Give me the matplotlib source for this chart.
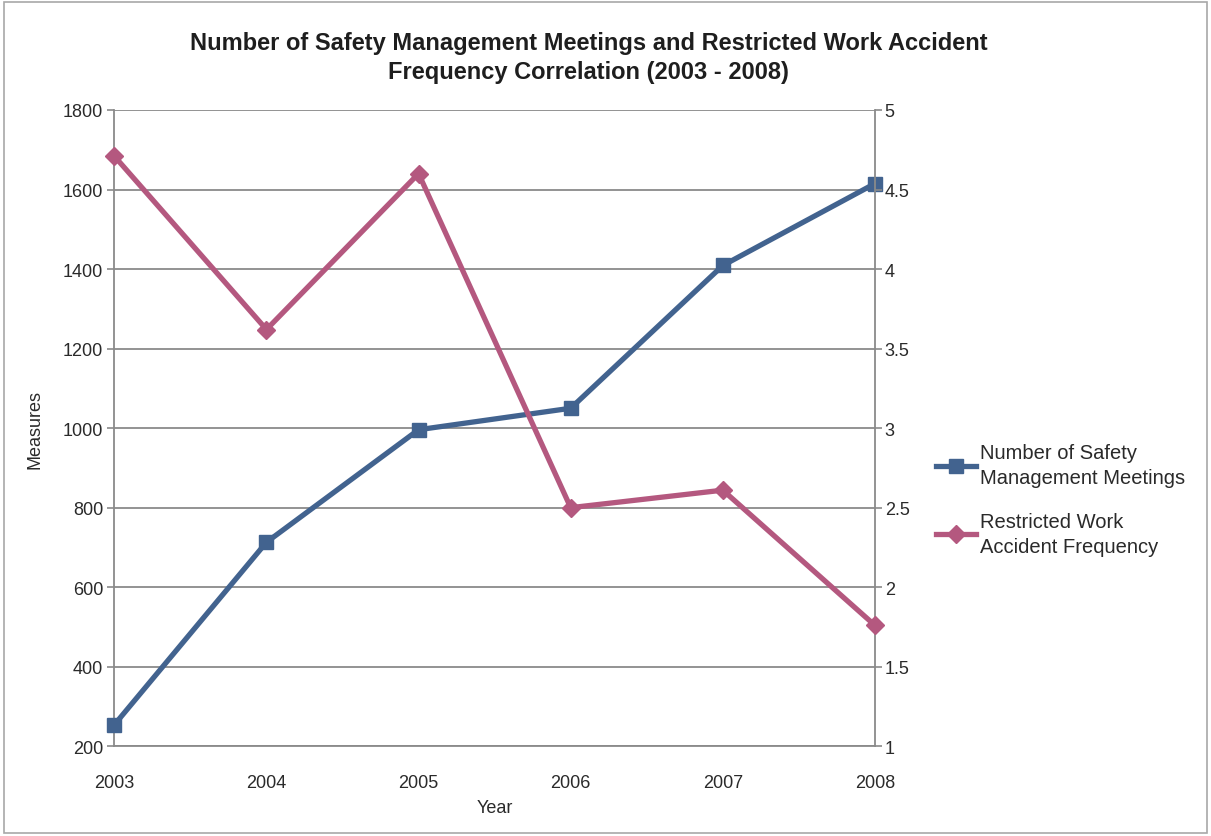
import matplotlib
matplotlib.use("Agg")
import matplotlib.pyplot as plt
from matplotlib.patches import Rectangle

plt.rcParams['font.family'] = ['Liberation Sans', 'DejaVu Sans']

years = [2003, 2004, 2005, 2006, 2007, 2008]
meetings = [254, 713, 996, 1050, 1409, 1615]
accident_freq = [4.71, 3.62, 4.60, 2.50, 2.61, 1.76]
left_ticks = [200, 400, 600, 800, 1000, 1200, 1400, 1600, 1800]
right_ticks = [1, 1.5, 2, 2.5, 3, 3.5, 4, 4.5, 5]
right_labels = ['1', '1.5', '2', '2.5', '3', '3.5', '4', '4.5', '5']

title = "Number of Safety Management Meetings and Restricted Work Accident\nFrequency Correlation (2003 - 2008)"
label_meet = "Number of Safety\nManagement Meetings"
label_acc = "Restricted Work\nAccident Frequency"

blue = '#42638F'
pink = '#B4587F'
grid_c = '#8A8A8A'
text_c = '#2A2A2A'

fig = plt.figure(figsize=(12.11, 8.37), dpi=100)
fig.patch.set_facecolor('white')
fig.add_artist(Rectangle((0.003, 0.004), 0.994, 0.992, transform=fig.transFigure,
                         fill=False, edgecolor='#A8A8A8', linewidth=1.2))

ax = fig.add_axes([0.0944, 0.1072, 0.6281, 0.7602])
ax2 = ax.twinx()

ax.set_xlim(2003, 2008)
ax.set_ylim(200, 1800)
ax2.set_ylim(1, 5)

ax.set_yticks(left_ticks)
ax.set_yticklabels([str(t) for t in left_ticks])
ax2.set_yticks(right_ticks)
ax2.set_yticklabels(right_labels)
ax.set_xticks(years)
ax.set_xticklabels([str(y) for y in years])

ax.grid(axis='y', color=grid_c, linewidth=1.3)
ax.set_axisbelow(True)

for a in (ax, ax2):
    for s in a.spines.values():
        s.set_visible(False)
ax.spines['left'].set_visible(True)
ax.spines['left'].set_color(grid_c)
ax.spines['left'].set_linewidth(1.3)
ax.spines['bottom'].set_visible(True)
ax.spines['bottom'].set_color(grid_c)
ax.spines['bottom'].set_linewidth(1.3)
ax2.spines['right'].set_visible(True)
ax2.spines['right'].set_color(grid_c)
ax2.spines['right'].set_linewidth(1.3)

ax.tick_params(axis='y', length=5, width=1.2, color=grid_c, labelsize=13, labelcolor=text_c, pad=3)
ax.tick_params(axis='x', length=0, labelsize=13, labelcolor=text_c, pad=20)
ax2.tick_params(axis='y', length=5, width=1.2, color=grid_c, labelsize=13, labelcolor=text_c, pad=2)

l1, = ax.plot(years, meetings, color=blue, linewidth=3.8, marker='s', markersize=10,
              markerfacecolor=blue, markeredgecolor=blue, clip_on=False, zorder=5,
              label=label_meet)
l2, = ax2.plot(years, accident_freq, color=pink, linewidth=3.8, marker='D', markersize=9,
               markerfacecolor=pink, markeredgecolor=pink, clip_on=False, zorder=5,
               label=label_acc)

ax.set_ylabel("Measures", fontsize=13, color=text_c, labelpad=14)
ax.set_xlabel("Year", fontsize=13, color=text_c, labelpad=6)

fig.text(0.486, 0.931, title, ha='center', va='center', fontsize=17,
         fontweight='bold', color='#1E1E1E', linespacing=1.35)

leg = fig.legend(handles=[l1, l2], loc='center left', bbox_to_anchor=(0.758, 0.402),
                 frameon=False, fontsize=14.5, handlelength=2.0, handletextpad=0.2,
                 labelspacing=1.2, labelcolor=text_c)
for t in leg.get_texts():
    t.set_linespacing(1.4)

fig.savefig("out.png", dpi=100)
